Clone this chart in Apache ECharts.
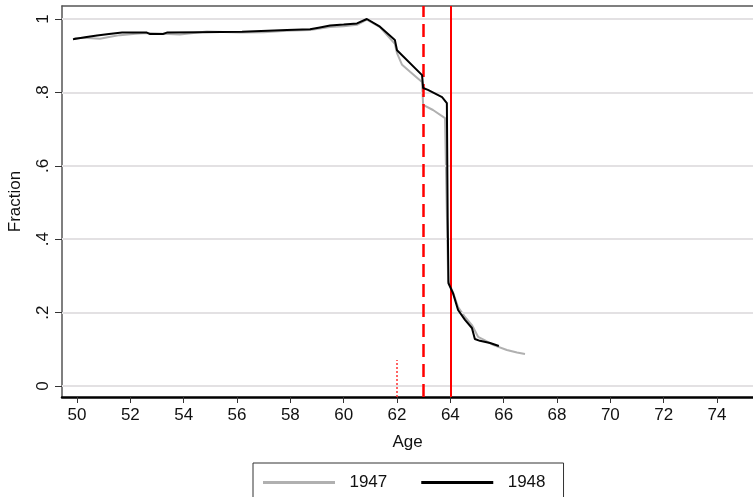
<!DOCTYPE html>
<html>
<head>
<meta charset="utf-8">
<script src="https://cdn.jsdelivr.net/npm/echarts@6/dist/echarts.min.js"></script>
<style>html,body{margin:0;padding:0;background:#fff}#c{width:753px;height:497px}</style>
</head>
<body>
<div id="c"></div>
<script>
// Data
const ageTicks = [50,52,54,56,58,60,62,64,66,68,70,72,74];
const fracTicks = [0,0.2,0.4,0.6,0.8,1];
const fracTickLabels = ['0','.2','.4','.6','.8','1'];
const seriesNames = ['1947','1948'];

const age1947 = [49.9,50.4,50.86,51.3,51.61,52.2,52.62,53.2,53.86,54.87,56.1,57.0,57.87,58.74,59.11,59.49,60.0,60.5,60.87,61.36,61.92,62.0,62.19,62.49,62.75,62.94,62.98,63.35,63.8,63.87,63.92,64.1,64.29,64.55,64.81,65.04,65.3,65.6,66.12,66.5,66.8];
const frac1947 = [0.948,0.948,0.946,0.952,0.956,0.960,0.962,0.960,0.958,0.966,0.963,0.964,0.968,0.970,0.974,0.978,0.980,0.984,0.998,0.978,0.932,0.907,0.875,0.856,0.840,0.828,0.766,0.752,0.730,0.725,0.285,0.255,0.215,0.188,0.166,0.134,0.124,0.112,0.098,0.091,0.087];

const age1948 = [49.85,50.3,50.75,51.2,51.69,52.62,52.74,53.22,53.37,54.6,56.19,57.87,58.74,59.11,59.49,60.0,60.5,60.87,61.36,61.92,62.0,62.94,62.98,63.16,63.69,63.87,63.9,63.93,64.1,64.29,64.55,64.81,64.92,65.11,65.49,65.82];
const frac1948 = [0.945,0.950,0.955,0.959,0.963,0.963,0.959,0.959,0.963,0.964,0.965,0.970,0.972,0.977,0.982,0.985,0.988,1.0,0.979,0.943,0.915,0.847,0.812,0.807,0.787,0.771,0.46,0.28,0.253,0.207,0.18,0.158,0.128,0.123,0.117,0.109];

const dottedAge = 62, dottedTop = 0.071;
const dashedAge = 63;
const solidAge = 64;

const pairs = (xs, ys) => xs.map((x,i)=>[x, ys[i]]);
const FONT = 'Liberation Sans';

const chart = echarts.init(document.getElementById('c'), null, {renderer:'canvas'});
chart.setOption({
  animation: false,
  backgroundColor: '#fff',
  grid: {left: 62, top: 6, right: 0, bottom: 100, containLabel: false, outerBoundsMode: 'none'},
  xAxis: [{
    type: 'value', min: 49.4375, max: 75.35,
    name: 'Age', nameLocation: 'middle', nameGap: 37,
    nameTextStyle: {fontFamily: FONT, fontSize: 17, color: '#111'},
    axisLine: {show: true, onZero: false, lineStyle: {color: '#000', width: 2.5}},
    axisTick: {show: true, length: 6, customValues: ageTicks, lineStyle: {color: '#333', width: 1}},
    axisLabel: {customValues: ageTicks, fontFamily: FONT, fontSize: 17, color: '#111', margin: 10},
    splitLine: {show: false}
  }, {
    type: 'value', position: 'top', min: 49.4375, max: 75.35,
    axisLine: {show: true, onZero: false, lineStyle: {color: '#555', width: 1.5}},
    axisTick: {show: false}, axisLabel: {show: false}, splitLine: {show: false}
  }],
  yAxis: {
    type: 'value', min: -0.03, max: 1.0354,
    name: 'Fraction', nameLocation: 'middle', nameGap: 38, nameRotate: 90,
    nameTextStyle: {fontFamily: FONT, fontSize: 17, color: '#111'},
    axisLine: {show: true, onZero: false, lineStyle: {color: '#555', width: 1.5}},
    axisTick: {show: true, length: 7, customValues: fracTicks, lineStyle: {color: '#333', width: 1}},
    axisLabel: {customValues: fracTicks, rotate: 90, fontFamily: FONT, fontSize: 17, color: '#111', margin: 10,
      formatter: v => { const i = fracTicks.findIndex(t => Math.abs(t - v) < 1e-6); return i >= 0 ? fracTickLabels[i] : ''; }},
    splitLine: {show: false}
  },
  legend: {
    data: seriesNames,
    left: 253, top: 463,
    orient: 'horizontal',
    icon: 'rect', itemWidth: 72, itemHeight: 3, itemGap: 34,
    padding: [11, 18, 30, 10],
    borderColor: '#333', borderWidth: 1,
    formatter: '  {name}',
    textStyle: {fontFamily: FONT, fontSize: 17, color: '#111'}
  },
  series: [
    {
      name: 'grid', type: 'line', data: [], z: 1, silent: true,
      markLine: {silent: true, symbol: 'none', label: {show: false},
        lineStyle: {color: '#e3e1e3', width: 2, type: 'solid'},
        data: fracTicks.map(v => ({yAxis: v}))}
    },
    {
      name: 'refs', type: 'line', data: [], z: 3, silent: true,
      markLine: {silent: true, symbol: 'none', label: {show: false},
        data: [
          {xAxis: dashedAge, lineStyle: {color: '#ff0000', width: 2.5, type: [13, 7]}},
          {xAxis: solidAge, lineStyle: {color: '#ff0000', width: 2, type: 'solid'}}
        ]}
    },
    {
      name: 'dotted', type: 'line', z: 3, silent: true, showSymbol: false,
      data: [[dottedAge, -0.03], [dottedAge, dottedTop]],
      lineStyle: {color: '#ff3030', width: 1.5, type: [2, 2]}
    },
    {
      name: '1947', type: 'line', z: 4, showSymbol: false, symbol: 'none',
      data: pairs(age1947, frac1947),
      itemStyle: {color: '#b0b0b0'},
      lineStyle: {color: '#b0b0b0', width: 2}
    },
    {
      name: '1948', type: 'line', z: 5, showSymbol: false, symbol: 'none',
      data: pairs(age1948, frac1948),
      itemStyle: {color: '#000'},
      lineStyle: {color: '#000', width: 2}
    }
  ]
});
</script>
</body>
</html>
